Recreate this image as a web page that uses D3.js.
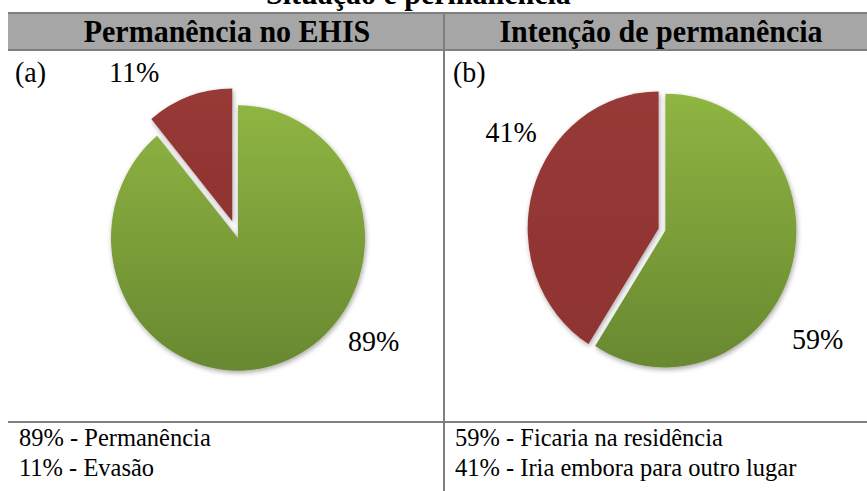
<!DOCTYPE html>
<html>
<head>
<meta charset="utf-8">
<script src="https://cdn.jsdelivr.net/npm/d3@7"></script>
<style>
  body { margin: 0; background: #fff; }
  svg { display: block; }
</style>
</head>
<body>
<div class="chart"></div>
<script>
const width = 867;
const height = 491;
const serif = "Liberation Serif, Times New Roman, serif";

// data
const catsA = ["Permanência", "Evasão"];
const valuesA = [89, 11];
const catsB = ["Ficaria na residência", "Iria embora para outro lugar"];
const valuesB = [59, 41];
const titles = ["Permanência no EHIS", "Intenção de permanência"];
const tags = ["(a)", "(b)"];
const cutTitle = "Situação e permanência";

// layout
const divX = 444;      // vertical divider
const headTop = 13, headBot = 50;
const sepY = 422;      // line above the legend
const yStretch = 1.045; // the picture is a bit taller than wide

const panels = [
  {cats: catsA, values: valuesA, cx: 238, cy: 238, r: 127, explode: [0, 17],
   labelAt: [[127, 170], [-32, 196]], tagX: 15, titleX: 227, legendX: 19},
  {cats: catsB, values: valuesB, cx: 662, cy: 229.5, r: 131, explode: [3.5, 3.5],
   labelAt: [[125, 190], [-57, 180]], tagX: 453, titleX: 661, legendX: 455}
];

const svg = d3.select(".chart").append("svg")
  .attr("width", width)
  .attr("height", height)
  .attr("font-family", serif);

// text helper: stretched a little in y, like the rest of the picture
const addText = (x, y, size, str) => svg.append("text")
  .attr("transform", `translate(${x},${y}) scale(1,${yStretch})`)
  .attr("font-family", serif)
  .attr("font-size", size)
  .text(str);

const defs = svg.append("defs");

const green = defs.append("linearGradient").attr("id", "gGreen")
  .attr("x1", 0).attr("y1", 0).attr("x2", 0).attr("y2", 1);
green.append("stop").attr("offset", "0%").attr("stop-color", "#8fb542");
green.append("stop").attr("offset", "100%").attr("stop-color", "#688830");

const red = defs.append("linearGradient").attr("id", "gRed")
  .attr("x1", 0).attr("y1", 0).attr("x2", 0).attr("y2", 1);
red.append("stop").attr("offset", "0%").attr("stop-color", "#983a37");
red.append("stop").attr("offset", "100%").attr("stop-color", "#8e3331");

const shadow = defs.append("filter").attr("id", "shadow")
  .attr("x", "-20%").attr("y", "-20%").attr("width", "140%").attr("height", "140%");
shadow.append("feDropShadow")
  .attr("dx", 1).attr("dy", 2).attr("stdDeviation", 2.5)
  .attr("flood-color", "#000").attr("flood-opacity", 0.35);

const fills = ["url(#gGreen)", "url(#gRed)"];

// title that is cut off at the top of the picture
addText(266, 4, 30, cutTitle).attr("font-weight", "bold");

// header band
svg.append("rect")
  .attr("x", 8).attr("y", headTop)
  .attr("width", width - 8).attr("height", headBot - headTop)
  .attr("fill", "#a6a6a6");
[headTop, headBot].forEach(y => {
  svg.append("line")
    .attr("x1", 8).attr("x2", width).attr("y1", y).attr("y2", y)
    .attr("stroke", "#7f7f7f").attr("stroke-width", 2);
});

svg.append("line")
  .attr("x1", 8).attr("x2", width).attr("y1", sepY).attr("y2", sepY)
  .attr("stroke", "#7f7f7f").attr("stroke-width", 2);

svg.append("line")
  .attr("x1", divX).attr("x2", divX).attr("y1", headTop).attr("y2", height)
  .attr("stroke", "#7f7f7f").attr("stroke-width", 2);

const pie = d3.pie().sort(null).value(d => d);

panels.forEach((p, i) => {
  addText(p.titleX, 42, 30, titles[i])
    .attr("text-anchor", "middle")
    .attr("font-weight", "bold");

  addText(p.tagX, 82, 28, tags[i]);

  const arc = d3.arc().innerRadius(0).outerRadius(p.r);
  const g = svg.append("g")
    .attr("transform", `translate(${p.cx},${p.cy}) scale(1,${yStretch})`);

  const slices = pie(p.values);
  g.selectAll("path")
    .data(slices)
    .enter().append("path")
    .attr("d", arc)
    .attr("fill", (d, j) => fills[j])
    .attr("filter", "url(#shadow)")
    .attr("transform", (d, j) => {
      const mid = (d.startAngle + d.endAngle) / 2;
      const k = p.explode[j];
      return `translate(${Math.sin(mid) * k},${-Math.cos(mid) * k})`;
    });

  // percentage labels, placed like Excel's best fit
  const total = d3.sum(p.values);
  slices.forEach((d, j) => {
    const [deg, dist] = p.labelAt[j];
    const a = deg * Math.PI / 180;
    addText(p.cx + Math.sin(a) * dist, p.cy - Math.cos(a) * dist, 28,
            d3.format(".0%")(d.value / total))
      .attr("dy", "0.35em")
      .attr("text-anchor", "middle");
  });

  // legend text under the line
  p.values.forEach((v, j) => {
    addText(p.legendX, 446 + j * 30, 24.5, `${v}% - ${p.cats[j]}`);
  });
});
</script>
</body>
</html>
